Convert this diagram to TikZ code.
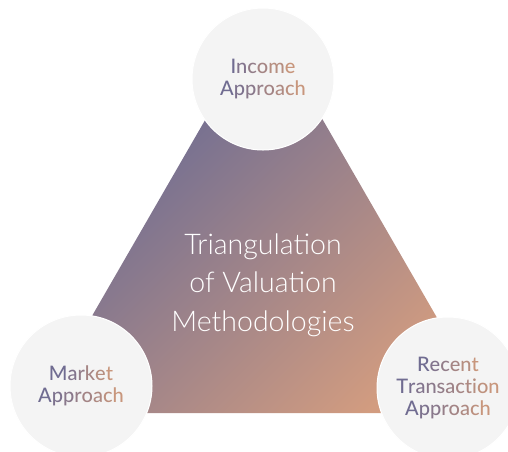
\documentclass[tikz,border=0pt]{standalone}
\usepackage{fontspec}
\setmainfont{Lato}
\newfontfamily\lightfont{Lato Light}
\newfontfamily\labelfont{Lato Medium}
\usetikzlibrary{positioning}
\definecolor{tripurple}{RGB}{92,100,150}
\definecolor{tripeach}{RGB}{210,156,128}
\definecolor{lblpurple}{RGB}{112,108,145}
\definecolor{lblpeach}{RGB}{200,150,124}
\definecolor{disc}{RGB}{244,244,244}
% one word, coloured letter by letter from purple to peach
\makeatletter
\newcount\gw@len
\newcount\gw@idx
\newcommand{\gradword}[1]{\gw@len=0 \gw@count#1\relax\gw@idx=0 \gw@paint#1\relax}
\def\gw@count#1{\ifx\relax#1\else\advance\gw@len by 1 \expandafter\gw@count\fi}
\def\gw@paint#1{\ifx\relax#1\else
  \pgfmathtruncatemacro\gw@pct{100-100*\gw@idx/(\gw@len-1)}%
  \textcolor{lblpurple!\gw@pct!lblpeach}{#1}%
  \advance\gw@idx by 1 \expandafter\gw@paint\fi}
\makeatother

\begin{document}
\begin{tikzpicture}[x=1pt,y=-1pt,
    approach/.style={circle, fill=disc, draw=white, line width=1pt,
      minimum size=142pt, inner sep=0pt, align=center,
      font=\labelfont\fontsize{20}{22}\selectfont}]
  \useasboundingbox (0,0) rectangle (508,451);
  \coordinate (apex) at (264,18);
  \coordinate (lcorner) at (36,413);
  \coordinate (rcorner) at (492,413);
  \shade[top color=tripurple, bottom color=tripeach, shading angle=45]
    (apex) -- (lcorner) -- (rcorner) -- cycle;
  \node[text=white, align=center, font=\lightfont\fontsize{28.5}{38.5}\selectfont]
    (title) at (263,285) {Triangulation\\of Valuation\\Methodologies};
  \node[approach] (income) at (263,79) {\gradword{Income}\\\gradword{Approach}};
  \node[approach] (market) at (81,386) {\gradword{Market}\\\gradword{Approach}};
  \node[approach] (recent) at (448,388)
    {\gradword{Recent}\\\gradword{Transaction}\\\gradword{Approach}};
\end{tikzpicture}
\end{document}
